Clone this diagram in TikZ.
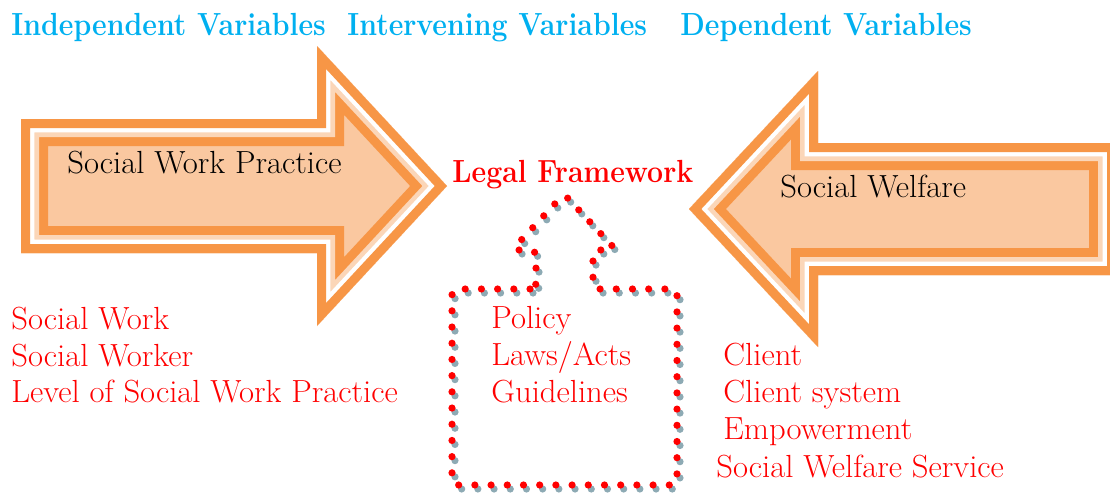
\documentclass[tikz,border=0pt]{standalone}
\usepackage{tikz}
\usepackage{fontspec}
\newfontfamily\bodyfont{Latin Modern Roman}[FakeStretch=1.02]
\newfontfamily\heavyfont{Latin Modern Roman}[FakeStretch=0.89]

\definecolor{headblue}{RGB}{0,176,240}
\definecolor{arroworange}{RGB}{247,150,70}
\definecolor{arrowpeach}{RGB}{250,200,160}
\definecolor{bandpeach}{RGB}{251,214,184}
\definecolor{dotshadow}{RGB}{141,170,180}

% block arrow with orange/white/peach bands on the inside of its edge
\newcommand{\bandedarrow}[1]{%
  \begin{scope}
    \clip #1;
    \fill[arrowpeach] #1;
    \draw[arroworange,line width=27pt] #1;
    \draw[bandpeach,line width=18pt] #1;
    \draw[white,line width=13.3pt] #1;
    \draw[arroworange,line width=9pt] #1;
  \end{scope}}

\tikzset{
  heading/.style={anchor=base west,inner sep=0pt,text=headblue,
    font=\heavyfont\fontsize{16}{19}\selectfont\bfseries},
  armtext/.style={anchor=base west,inner sep=0pt,
    font=\bodyfont\fontsize{16}{19}\selectfont},
  item/.style={anchor=base west,inner sep=0pt,text=red,
    font=\bodyfont\fontsize{16}{19}\selectfont},
  dots/.style={line width=3.6pt,line cap=round,rounded corners=3pt,
    dash pattern=on 0pt off 8.1pt}
}

\begin{document}
\begin{tikzpicture}[x=0.5pt,y=-0.5pt]
                \clip (0,0) rectangle (1110,493);

                % the two block arrows
                \bandedarrow{(21,119) -- (317,119) -- (317,46) -- (447,186) -- (317,326) -- (317,253) -- (21,253) -- cycle}
                \bandedarrow{(1116,143) -- (818,143) -- (818,71) -- (689,209) -- (818,347) -- (818,275) -- (1116,275) -- cycle}

                % dotted up-arrow box, grey shadow first
                \foreach \col/\dx/\dy in {dotshadow/3/4,red/0/0}{
                    \draw[dots,\col,shift={(\dx,\dy)}] (536,289) -- (452,289) -- (452,485) -- (677,485)
                        -- (677,289) -- (593,289) -- (593,250) -- (616,250) -- (564,194)
                        -- (512,250) -- (536,250) -- cycle;
                }

                \node[heading] (indep) at (11,35) {Independent Variables};
                \node[heading] (interv) at (347,35) {Intervening Variables};
                \node[heading] (dep) at (680,35) {Dependent Variables};

                \node[armtext] (practice) at (67,173) {Social Work Practice};
                \node[armtext] (welfare) at (780,197) {Social Welfare};
                \node[item,font=\heavyfont\fontsize{16}{19}\selectfont\bfseries] (legal) at (452,182) {Legal Framework};

                \node[item] (sw1) at (11,329) {Social Work};
                \node[item] (sw2) at (11,366) {Social Worker};
                \node[item] (sw3) at (11,402) {Level of Social Work Practice};

                \node[item] (lf1) at (491,328) {Policy};
                \node[item] (lf2) at (491,365) {Laws/Acts};
                \node[item] (lf3) at (491,402) {Guidelines};

                \node[item] (cl1) at (723,365) {Client};
                \node[item] (cl2) at (723,402) {Client system};
                \node[item] (cl3) at (723,439) {Empowerment};
                \node[item] (cl4) at (716,477) {Social Welfare Service};
\end{tikzpicture}
\end{document}
